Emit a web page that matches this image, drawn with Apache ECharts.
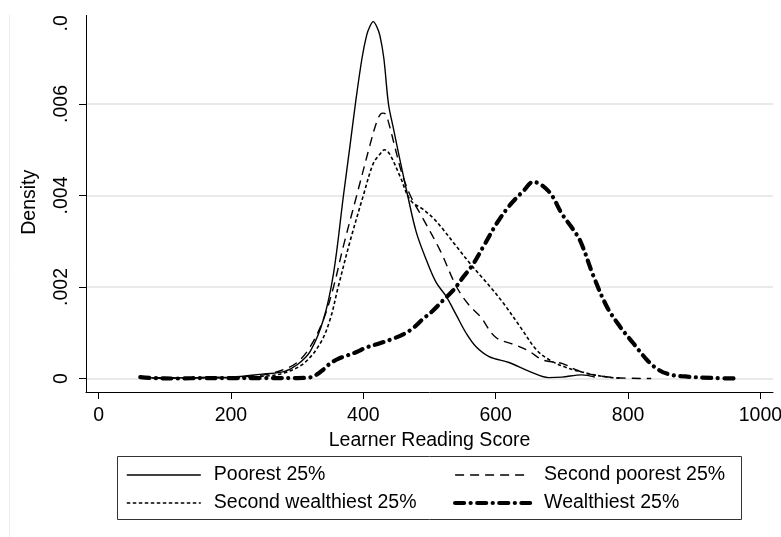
<!DOCTYPE html>
<html>
<head>
<meta charset="utf-8">
<script src="https://cdn.jsdelivr.net/npm/echarts@6/dist/echarts.min.js"></script>
<style>
  html, body { margin: 0; padding: 0; background: #fff; }
  #clip { position: absolute; left: 0; top: 15px; width: 781px; height: 522px; overflow: hidden; }
  #chart { position: absolute; left: 0; top: -15px; width: 781px; height: 537px; }
</style>
</head>
<body>
<div id="clip"><div id="chart"></div></div>
<script>
// x ticks and y ticks
const xTicks = [0, 200, 400, 600, 800, 1000];
const yTicks = [0, 0.002, 0.004, 0.006, 0.008];

const seriesNames = ['Poorest 25%', 'Second poorest 25%', 'Second wealthiest 25%', 'Wealthiest 25%'];

// Poorest 25%
const poorestX = [63,100,150,200,250,280,300,320,340,355,370,380,388,398,405,410,415,420,425,431,438,445,455,467,480,495,510,525,540,555,570,590,620,650,680,700,730,750];
const poorestY = [0.00003,0.00001,0.00002,0.00003,0.0001,0.00015,0.0003,0.0006,0.0013,0.0023,0.004,0.0051,0.006,0.007,0.0075,0.0077,0.0078,0.0077,0.0075,0.007,0.006,0.0055,0.0048,0.004,0.0032,0.0026,0.0021,0.0018,0.0014,0.001,0.0007,0.00048,0.00035,0.00016,0.00002,0.00003,0.00008,0.00003];

// Second poorest 25%
const secondPoorestX = [63,100,150,200,250,280,300,320,340,355,370,390,410,420,426,430,434,440,447,458,471,490,516,541,560,577,600,630,650,672,700,720,740,780,835];
const secondPoorestY = [0.00002,0.00001,0.00002,0.00003,0.00008,0.0002,0.00035,0.0007,0.0013,0.002,0.0029,0.004,0.0051,0.0056,0.00578,0.0058,0.00577,0.0055,0.0051,0.0045,0.004,0.0035,0.0028,0.002,0.0016,0.00135,0.0009,0.00073,0.0006,0.0004,0.00033,0.0002,0.0001,0.00002,0.0];

// Second wealthiest 25%
const secondWealthiestX = [63,100,150,200,250,280,310,335,350,362,380,400,415,425,432,440,456,471,490,506,521,540,562,580,592,612,637,662,682,705,728,760,790];
const secondWealthiestY = [0.00001,0.00001,0.00001,0.00002,0.00005,0.00012,0.00033,0.00077,0.0013,0.002,0.003,0.004,0.0047,0.0049,0.005,0.0049,0.0044,0.0039,0.0037,0.0035,0.00325,0.0029,0.0025,0.0022,0.002,0.00164,0.00113,0.00062,0.0004,0.00025,0.00015,0.00005,0.0];

// Wealthiest 25%
const wealthiestX = [63,80,120,160,200,250,300,318,330,340,350,362,375,390,405,425,445,461,475,490,505,520,536,550,565,582,602,622,642,657,672,685,700,715,728,748,768,788,808,829,845,860,880,930,967];
const wealthiestY = [0.00003,0.00001,0,0.00001,0.00001,0.00001,0.00001,0.00002,0.00009,0.0002,0.00033,0.00043,0.0005,0.00058,0.00068,0.00077,0.00087,0.00097,0.0011,0.0013,0.00148,0.0017,0.00193,0.0022,0.00248,0.0029,0.0034,0.0038,0.0041,0.0043,0.0042,0.004,0.0036,0.0033,0.003,0.00223,0.00157,0.00113,0.00077,0.0004,0.0002,0.0001,0.00005,0.00001,0];

const FONT = '"Liberation Sans", Arial, Helvetica, sans-serif';
const FS = 19.5;
const pair = (xs, ys) => xs.map((x, i) => [x, ys[i]]);

const chart = echarts.init(document.getElementById('chart'), null, { renderer: 'canvas' });

const lineStyles = [
  { color: '#000', width: 1.4, type: 'solid' },
  { color: '#000', width: 1.4, type: [9, 6] },
  { color: '#000', width: 1.6, type: [3.5, 2.5] },
  { color: '#000', width: 4.2, type: [9, 6.5, 0.1, 6.5], cap: 'round' }
];
const dataSets = [
  pair(poorestX, poorestY),
  pair(secondPoorestX, secondPoorestY),
  pair(secondWealthiestX, secondWealthiestY),
  pair(wealthiestX, wealthiestY)
];

const legendBase = {
  orient: 'vertical',
  top: 465,
  padding: 0,
  itemHeight: 14,
  itemGap: 8,
  selectedMode: false,
  itemStyle: { opacity: 0 },
  lineStyle: { width: 'inherit' },
  textStyle: { fontSize: FS, color: '#000', fontFamily: FONT, lineHeight: 20 }
};

chart.setOption({
  animation: false,
  backgroundColor: '#fff',
  grid: { left: 86, right: 8, top: 12.5, bottom: 145, containLabel: false, outerBoundsMode: 'none' },
  xAxis: {
    type: 'value',
    min: -19,
    max: 1019,
    name: 'Learner Reading Score',
    nameLocation: 'middle',
    nameGap: 31.5,
    nameTextStyle: { fontSize: FS, color: '#000', fontFamily: FONT },
    axisLine: { show: true, onZero: false, lineStyle: { color: '#000', width: 1 } },
    axisTick: { show: true, length: 7, lineStyle: { color: '#000' }, customValues: xTicks },
    axisLabel: { fontSize: FS, color: '#000', fontFamily: FONT, margin: 13.5, customValues: xTicks, formatter: v => String(v) },
    splitLine: { show: false }
  },
  yAxis: {
    type: 'value',
    min: -0.000295,
    max: 0.008,
    name: 'Density',
    nameLocation: 'middle',
    nameRotate: 90,
    nameGap: 46,
    nameTextStyle: { fontSize: FS, color: '#000', fontFamily: FONT },
    axisLine: { show: true, onZero: false, lineStyle: { color: '#000', width: 1 } },
    axisTick: { show: true, length: 7, lineStyle: { color: '#000' }, customValues: yTicks },
    axisLabel: {
      fontSize: FS, color: '#000', fontFamily: FONT, rotate: 90, margin: 14,
      customValues: yTicks,
      formatter: v => (v === 0 ? '0' : v.toFixed(3).replace(/^0/, ''))
    },
    splitLine: { show: true, lineStyle: { color: '#e3e3e3', width: 1.5 } }
  },
  legend: [
    Object.assign({}, legendBase, { left: 126, itemWidth: 74,
      textStyle: Object.assign({}, legendBase.textStyle, { padding: [0, 0, 0, 8] }),
      data: [seriesNames[0], seriesNames[2]] }),
    Object.assign({}, legendBase, { left: 453, itemWidth: 75,
      textStyle: Object.assign({}, legendBase.textStyle, { padding: [0, 0, 0, 9] }),
      data: [seriesNames[1], seriesNames[3]] })
  ],
  graphic: [
    { type: 'rect', shape: { x: 117.5, y: 456.5, width: 624, height: 63 }, style: { fill: 'none', stroke: '#333', lineWidth: 1 }, silent: true },
    { type: 'line', shape: { x1: 9.5, y1: 0, x2: 9.5, y2: 537 }, style: { stroke: '#ececec', lineWidth: 1 }, silent: true }
  ],
  series: seriesNames.map((name, i) => ({
    name: name,
    type: 'line',
    data: dataSets[i],
    showSymbol: false,
    symbol: 'none',
    smooth: 0.35,
    lineStyle: lineStyles[i],
    itemStyle: { color: '#000' },
    emphasis: { disabled: true },
    z: 3 + i
  }))
});
</script>
</body>
</html>
